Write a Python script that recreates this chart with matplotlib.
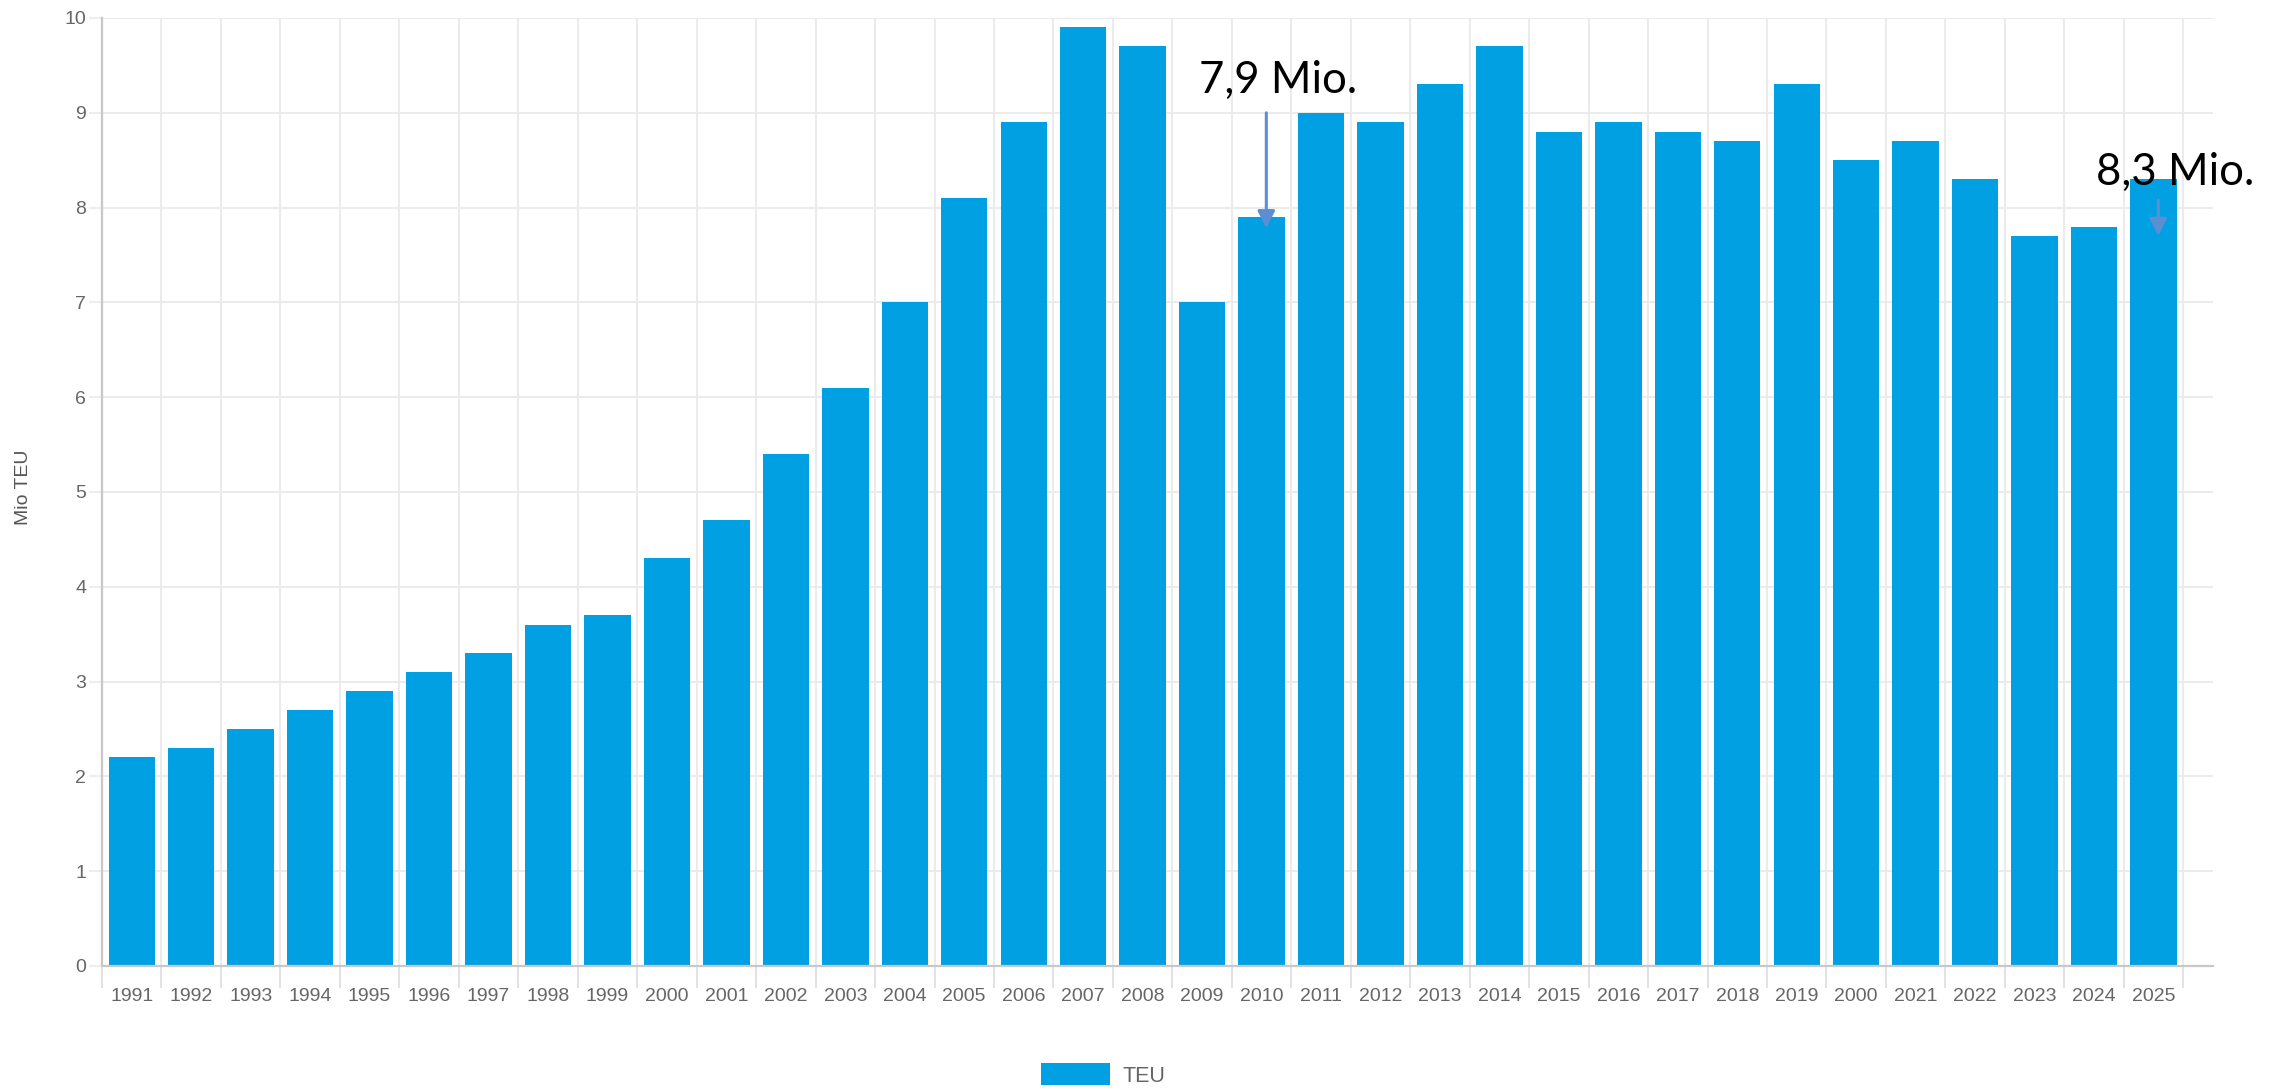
import matplotlib
matplotlib.use("Agg")
import matplotlib.pyplot as plt
import numpy as np

# TEU handled per year (Mio TEU)
years = ["1991", "1992", "1993", "1994", "1995", "1996", "1997", "1998", "1999", "2000",
         "2001", "2002", "2003", "2004", "2005", "2006", "2007", "2008", "2009", "2010",
         "2011", "2012", "2013", "2014", "2015", "2016", "2017", "2018", "2019", "2000",
         "2021", "2022", "2023", "2024", "2025"]
teu = [2.2, 2.3, 2.5, 2.7, 2.9, 3.1, 3.3, 3.6, 3.7, 4.3,
       4.7, 5.4, 6.1, 7.0, 8.1, 8.9, 9.9, 9.7, 7.0, 7.9,
       9.0, 8.9, 9.3, 9.7, 8.8, 8.9, 8.8, 8.7, 9.3, 8.5,
       8.7, 8.3, 7.7, 7.8, 8.3]
y_ticks = [0, 1, 2, 3, 4, 5, 6, 7, 8, 9, 10]
note_labels = ["7,9 Mio.", "8,3 Mio."]
note_years = [19, 34]   # index into years

bar_color = "#00a0e3"
grid_color = "#ebebeb"
label_color = "#666666"
arrow_color = "#5a8fd4"

plt.rcParams["font.family"] = ["Liberation Sans", "DejaVu Sans"]

fig = plt.figure(figsize=(22.78, 10.89), dpi=100)
ax = fig.add_axes([102 / 2278, 1 - 966 / 1089, (2213 - 102) / 2278, (966 - 18) / 1089])

x = np.arange(len(years))
bars = ax.bar(x, teu, width=0.78, color=bar_color, label="TEU", zorder=3)

ax.set_xlim(-0.5, 35)
ax.set_ylim(0, 10)

# year labels at bar centres, tick marks + grid at the bar boundaries
ax.set_xticks(x)
ax.set_xticklabels(years, fontsize=14, color=label_color)
ax.tick_params(axis="x", which="major", length=0, pad=16)
ax.set_xticks(np.arange(-0.5, len(years), 1.0), minor=True)
ax.tick_params(axis="x", which="minor", length=16, width=1.2, color="#dddddd")
ax.grid(axis="x", which="minor", color=grid_color, linewidth=1.5, zorder=0)

ax.set_yticks(y_ticks)
ax.set_yticklabels([str(v) for v in y_ticks], fontsize=14, color=label_color)
ax.tick_params(axis="y", length=9.5, width=1.2, color=grid_color, pad=2)
ax.grid(axis="y", which="major", color=grid_color, linewidth=1.5, zorder=0)

for side in ["top", "right"]:
    ax.spines[side].set_visible(False)
for side in ["left", "bottom"]:
    ax.spines[side].set_color("#c8c8c8")
    ax.spines[side].set_linewidth(1.6)
    ax.spines[side].set_zorder(4)

fig.text(23 / 2278, 1 - 487 / 1089, "Mio TEU", rotation=90, fontsize=14,
         color="#555555", ha="center", va="center")

# hand-drawn style call-outs
ax.annotate("", xy=(note_years[0] + 0.08, 7.78), xytext=(note_years[0] + 0.08, 9.0),
            arrowprops=dict(arrowstyle="-|>", color=arrow_color, lw=2.2,
                            mutation_scale=26, shrinkA=0, shrinkB=0), zorder=5)
ax.text(note_years[0] + 0.28, 9.21, note_labels[0], fontsize=31.5, family="Lato",
        ha="center", va="baseline", color="black", zorder=6)

ax.annotate("", xy=(note_years[1] + 0.08, 7.70), xytext=(note_years[1] + 0.08, 8.08),
            arrowprops=dict(arrowstyle="-|>", color=arrow_color, lw=2.2,
                            mutation_scale=26, shrinkA=0, shrinkB=0), zorder=5)
ax.text(note_years[1] + 0.37, 8.24, note_labels[1], fontsize=31.5, family="Lato",
        ha="center", va="baseline", color="black", zorder=6, clip_on=False)

fig.legend(handles=[bars], labels=["TEU"], loc="center", bbox_to_anchor=(1103.5 / 2278, 1 - 1075 / 1089),
           frameon=False, fontsize=15.5, handlelength=3.2, handleheight=1.16,
           handletextpad=0.6, borderpad=0, labelcolor=label_color)

fig.savefig("out.png", dpi=100)
